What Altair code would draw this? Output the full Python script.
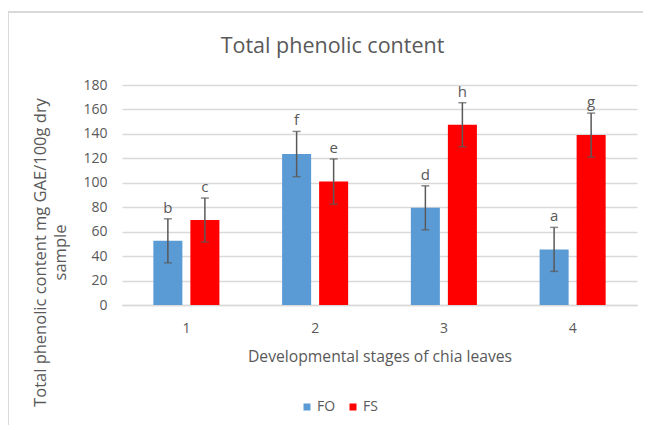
import altair as alt
import pandas as pd

stages = ["1", "2", "3", "4"]
fo_values = [52.5, 123.5, 79.5, 45.5]
fs_values = [69.5, 101.0, 147.5, 139.0]
fo_err = [18.0, 18.5, 18.0, 18.0]
fs_err = [18.0, 18.5, 18.0, 18.0]
fo_letters = ["b", "f", "d", "a"]
fs_letters = ["c", "e", "h", "g"]
series = ["FO", "FS"]
colors = ["#5B9BD5", "#FF0000"]
y_ticks = [0, 20, 40, 60, 80, 100, 120, 140, 160, 180]

rows = []
for i, s in enumerate(stages):
    rows.append(dict(stage=s, series="FO", value=fo_values[i],
                     lo=fo_values[i] - fo_err[i], hi=fo_values[i] + fo_err[i],
                     letter=fo_letters[i]))
    rows.append(dict(stage=s, series="FS", value=fs_values[i],
                     lo=fs_values[i] - fs_err[i], hi=fs_values[i] + fs_err[i],
                     letter=fs_letters[i]))
df = pd.DataFrame(rows)

FONT = "Open Sans"
GRAY = "#595959"

xscale = alt.Scale(paddingInner=0, paddingOuter=0)
yscale = alt.Scale(domain=[0, 180], nice=False)

x_axis = alt.Axis(title="Developmental stages of chia leaves",
                  labelAngle=0, ticks=False, labelPadding=16,
                  labelFontSize=14, labelColor=GRAY, labelFont=FONT,
                  domainColor="#d9d9d9", domainWidth=1.3,
                  titleFont=FONT, titleFontSize=15.7, titleColor=GRAY,
                  titleFontWeight="normal", titleY=51,
                  titleBaseline="middle")
y_axis = alt.Axis(values=y_ticks, ticks=False, domain=False,
                  labelPadding=15, labelFontSize=14, labelColor=GRAY,
                  labelFont=FONT, gridColor="#d9d9d9", gridWidth=1.3,
                  labelOverlap=False,
                  title=["Total phenolic content mg GAE/100g dry", "sample"],
                  titleFont=FONT, titleFontSize=16.5, titleColor=GRAY,
                  titleFontWeight="normal", titleAngle=-90,
                  titleX=-90, titleY=167, titleAlign="center",
                  titleBaseline="top", titleLineHeight=20)

x_enc = alt.X("stage:N", sort=stages, scale=xscale, axis=x_axis)
xoff = alt.XOffset("series:N", sort=series,
                   scale=alt.Scale(paddingInner=0.216, paddingOuter=0.847))


def yq(field):
    return alt.Y(field, type="quantitative", scale=yscale, axis=y_axis)


base = alt.Chart(df)

bars = base.mark_bar().encode(
    x=x_enc,
    xOffset=xoff,
    y=yq("value"),
    color=alt.Color("series:N", sort=series,
                    scale=alt.Scale(domain=series, range=colors),
                    legend=alt.Legend(title=None, orient="none", direction="horizontal",
                                      legendX=178, legendY=315, symbolType="square",
                                      symbolSize=49, symbolStrokeWidth=0,
                                      labelFont=FONT, labelFontSize=14,
                                      labelColor=GRAY, labelOffset=3,
                                      columnPadding=10, padding=0)),
)

err = base.mark_rule(color=GRAY, strokeWidth=1.5).encode(
    x=x_enc, xOffset=xoff, y=yq("lo"), y2="hi:Q")

cap_hi = base.mark_tick(color=GRAY, thickness=1.5, size=8, orient="horizontal").encode(
    x=x_enc, xOffset=xoff, y=yq("hi"))
cap_lo = base.mark_tick(color=GRAY, thickness=1.5, size=8, orient="horizontal").encode(
    x=x_enc, xOffset=xoff, y=yq("lo"))

letters = base.mark_text(color=GRAY, font=FONT, fontSize=15, baseline="alphabetic",
                         dy=-6).encode(
    x=x_enc, xOffset=xoff, y=yq("hi"), text="letter:N")

frame_top = alt.Chart(df).mark_rule(color="#d9d9d9", strokeWidth=1.5).encode(
    x=alt.value(-114), x2=alt.value(530), y=alt.value(-73))
frame_left = alt.Chart(df).mark_rule(color="#d9d9d9", strokeWidth=1.5).encode(
    x=alt.value(-114), y=alt.value(-73), y2=alt.value(340))

chart = alt.layer(frame_top, frame_left, bars, err, cap_hi, cap_lo, letters).properties(
    width=515, height=220,
    title=alt.TitleParams("Total phenolic content", font=FONT, fontSize=21.5,
                          color=GRAY, fontWeight="normal", anchor="middle",
                          frame="group", dx=-47, offset=-46),
    autosize=alt.AutoSizeParams(type="none"),
    padding={"left": 114, "top": 77, "right": 6, "bottom": 120},
).configure(background="white").configure_view(stroke=None)

chart.save("out.html", embed_options={"renderer": "svg", "actions": False})
